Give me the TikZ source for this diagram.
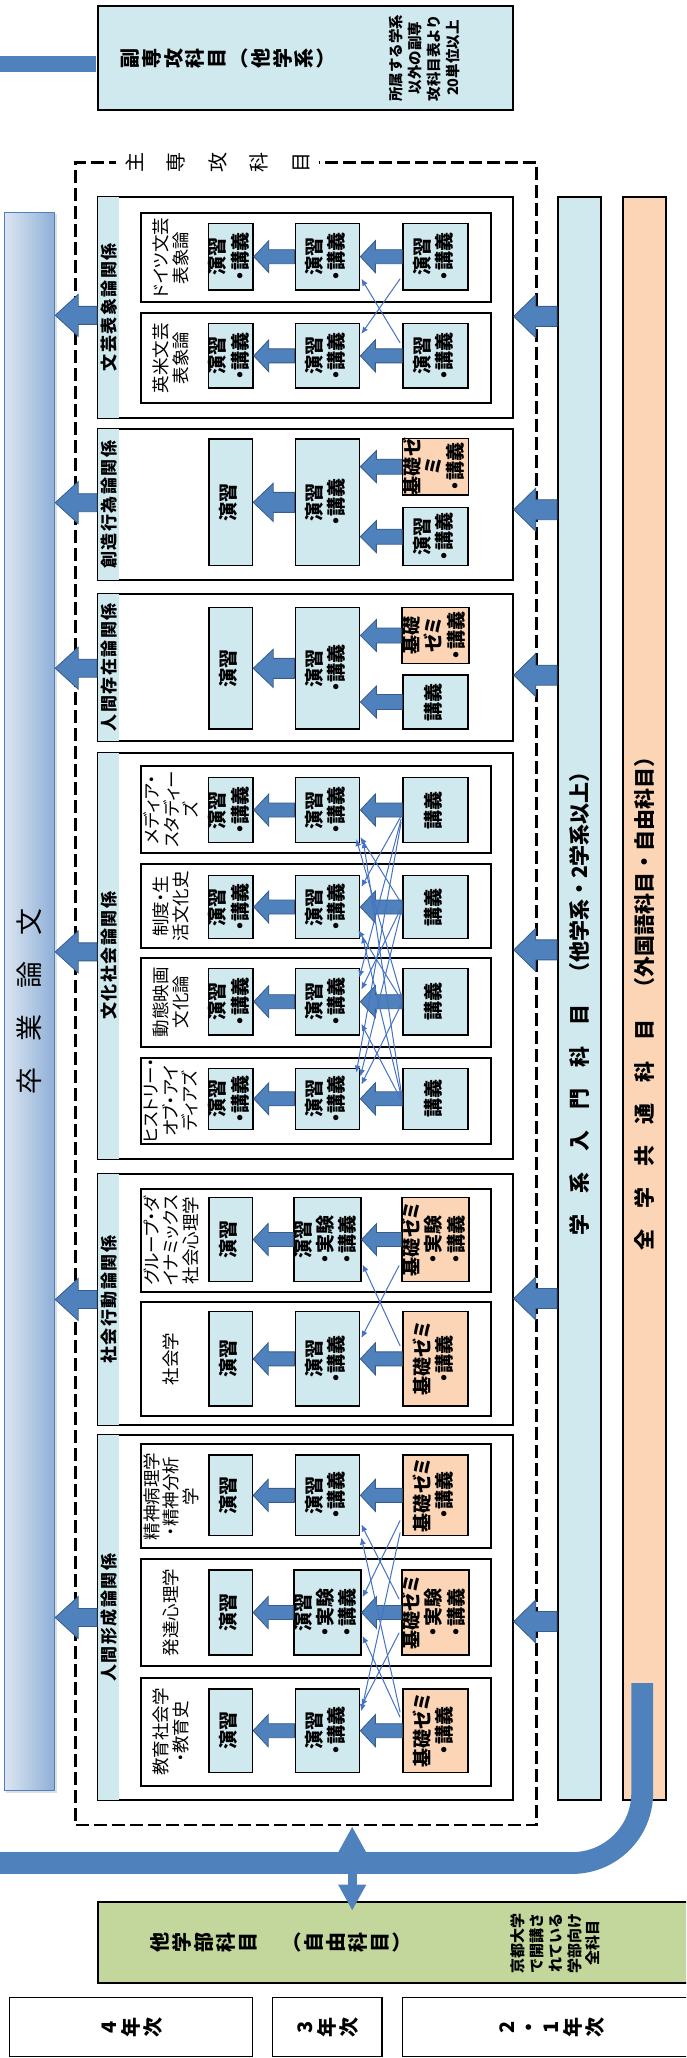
\documentclass[tikz,border=0pt]{standalone}
\usepackage{fontspec}
\setmainfont{Noto Sans CJK JP}
\newfontfamily\pf[RawFeature=+palt]{Noto Sans CJK JP}
\usepackage{graphicx}
\usetikzlibrary{calc,arrows.meta,shadows}

\definecolor{lb}{RGB}{208,233,239}
\definecolor{pe}{RGB}{251,213,181}
\definecolor{gr}{RGB}{195,214,155}
\definecolor{ab}{RGB}{79,129,189}
\definecolor{abd}{RGB}{56,93,138}
\definecolor{tl}{RGB}{68,114,196}
\definecolor{sl}{RGB}{220,230,242}
\definecolor{sr}{RGB}{142,175,215}

\makeatletter
\def\sp@loop#1{\ifx\relax#1\else#1\hskip\sp@gap\relax\expandafter\sp@loop\fi}
\newcommand\spaced[2]{\def\sp@gap{#1}\sp@loop#2\relax\unskip}
\newcommand\rch[1]{\rotatebox[origin=c]{90}{\rule[-0.12em]{0pt}{1em}\smash{#1}}}
\def\ta@loop#1{\ifx\relax#1\else\hbox to\ta@pitch{\hss\rch{#1}\hss}\expandafter\ta@loop\fi}
\newcommand\tate[2]{\def\ta@pitch{#1}\ta@loop#2\relax}
\makeatother

\newcommand\vt[1]{\rotatebox{90}{\begin{tabular}{@{}c@{}}#1\end{tabular}}}
\newcommand\cfont{\pf\bfseries\fontsize{19}{20}\selectfont}
\newcommand\slfont{\pf\fontsize{17.5}{19.5}\selectfont}

\def\xA{230.75}\def\wA{43.3}
\def\xB{327.45}\def\wB{64.3}
\def\xC{435.5}\def\wC{65.2}

\newcommand\cbox[6]{\edef\cx{\csname x#3\endcsname}\edef\cw{\csname w#3\endcsname}%
  \node[#2, minimum width=\cw, minimum height={#5-#4}] (#1) at (\cx,{(#4+#5)/2}) {\vt{#6}};}
\newcommand\subj[4]{\node[sbox, minimum height={#3-#2}] (#1) at (316.1,{(#2+#3)/2}) {};
  \node[slabel] (#1l) at (171,{(#2+#3)/2}) {#4};}
\newcommand\grp[4]{\node[gbox, minimum height={#3-#2}] (#1) at (305.375,{(#2+#3)/2}) {};
  \fill[lb] ($(#1.north west)+(1,1)$) rectangle ($(#1.south west)+(21.9,-1)$);
  \node[inner sep=0pt] (#1l) at (108.95,{(#2+#3)/2}) {\rotatebox{90}{\bfseries\fontsize{17}{20}\selectfont\spaced{1.5pt}{#4}}};}
\newcommand\blockarr[5]{%
  \filldraw[barrow] let \p1=(#1), \p2=(#2) in
  (\x1,\y1+#3) -- (\x2+#5,\y1+#3) -- (\x2+#5,\y1+#4) -- (\x2,\y1)
  -- (\x2+#5,\y1-#4) -- (\x2+#5,\y1-#3) -- (\x1,\y1-#3) -- cycle;}
\newcommand\rowarr[3]{\blockarr{#1.west}{#2.east}{7pt}{16pt}{15pt}\blockarr{#2.west}{#3.east}{7pt}{16pt}{15pt}}

\begin{document}
\begin{tikzpicture}[x=1pt,y=-1pt,
  gbox/.style={draw, line width=2pt, fill=white, minimum width=414.75, inner sep=0pt},
  sbox/.style={draw, line width=2pt, fill=white, minimum width=350.4, inner sep=0pt},
  slabel/.style={rotate=90, align=center, inner sep=0pt, font=\slfont},
  cb/.style={draw, line width=1.5pt, fill=lb, inner sep=0pt, font=\cfont},
  cpe/.style={cb, fill=pe},
  barrow/.style={fill=ab, draw=abd, line width=0.8pt},
  thinar/.style={draw=tl, line width=1pt, -{Latex[length=7pt,width=6pt]}},
  bar/.style={draw, line width=1.5pt, inner sep=0pt, minimum width=43, minimum height=1603},
]
\useasboundingbox (0,0) rectangle (686,2058);
\clip (0,0) rectangle (686,2058);

% top: minor subjects
\node[draw, line width=2pt, fill=lb, minimum width=414.75, minimum height=104.3, inner sep=0] (top) at (305.375,57.85) {};
\coordinate (tb0) at (-5,63.7);
\draw[ab, line width=16pt, shorten >=1pt] (tb0) -- (tb0 -| top.west);
\node[font=\bfseries\fontsize{20}{24}\selectfont, inner sep=0] (toptitle) at (228,58.3) {\tate{21.8pt}{副専攻科目︵他学系︶}};
\node[rotate=90, align=center, inner sep=0, font=\bfseries\fontsize{14.5}{19}\selectfont] (topnote) at (424.5,58) {所属する学系\\以外の副専\\攻科目表より\\20単位以上};

% right bars
\node[bar, fill=lb] (gk) at (579.25,998.5) {\rotatebox{90}{\bfseries\fontsize{21}{25}\selectfont 学　系　入　門　科　目　（他学系・2学系以上）}};
\node[bar, fill=pe] (zg) at (644.65,998.5) {\rotatebox{90}{\bfseries\fontsize{21}{25}\selectfont 全　学　共　通　科　目　（外国語科目・自由科目）}};

% graduation thesis bar
\node[draw=ab, line width=1pt, left color=sl, right color=sr, minimum width=50.3, minimum height=1578.4, inner sep=0,
  drop shadow={shadow xshift=2pt, shadow yshift=-2pt, opacity=0.25}] (sotsu) at (29.55,1001.5)
  {\rotatebox{90}{\fontsize{27}{30}\selectfont\spaced{26pt}{卒業論文}}};

% main dashed frame
\node[draw, line width=2.7pt, dash pattern=on 13pt off 5pt, minimum width=460.7, minimum height=1662.7, inner sep=0] (major) at (306.05,993.65) {};
\node[fill=white, inner xsep=-2pt, inner ysep=1pt, font=\fontsize{20}{22}\selectfont] (majortitle) at (217.5,162.3) {\tate{41.5pt}{主専攻科目}};

% groups
\grp{G1}{197}{417.7}{文芸表象論関係}
\grp{G2}{429.3}{580}{創造行為論関係}
\grp{G3}{593.7}{740.7}{人間存在論関係}
\grp{G4}{752.7}{1159}{文化社会論関係}
\grp{G5}{1174}{1425}{社会行動論関係}
\grp{G6}{1435}{1800}{人間形成論関係}

% subjects
\subj{S1a}{213.3}{302.3}{ドイツ文芸\\表象論}
\subj{S1b}{313}{403.3}{英米文芸\\表象論}
\subj{S4a}{765.7}{853.3}{メディア・\\スタディー\\ズ}
\subj{S4b}{864}{948.3}{制度・生\\活文化史}
\subj{S4c}{957.7}{1046.7}{動態映画\\文化論}
\subj{S4d}{1057.7}{1144}{ヒストリー・\\オブ・アイ\\ディアズ}
\subj{S5a}{1188.7}{1292.3}{グループ・ダ\\イナミックス\\社会心理学}
\subj{S5b}{1301.7}{1416}{社会学}
\subj{S6a}{1444.3}{1548.3}{精神病理学\\・精神分析\\学}
\subj{S6b}{1559}{1666}{発達心理学}
\subj{S6c}{1677.7}{1786}{教育社会学\\・教育史}

% course boxes
\cbox{A1a}{cb}{A}{223.3}{290}{演習\\・講義}
\cbox{B1a}{cb}{B}{223.3}{290}{演習\\・講義}
\cbox{C1a}{cb}{C}{223.3}{290}{演習\\・講義}
\cbox{A1b}{cb}{A}{323.7}{388}{演習\\・講義}
\cbox{B1b}{cb}{B}{323.7}{388}{演習\\・講義}
\cbox{C1b}{cb}{C}{323.7}{388}{演習\\・講義}

\cbox{A2}{cb}{A}{439}{565.7}{演習}
\cbox{B2}{cb}{B}{439}{565.7}{演習\\・講義}
\cbox{C2a}{cpe}{C}{438.3}{495}{基礎ゼ\\ミ\\・講義}
\cbox{C2b}{cb}{C}{507.7}{565.7}{演習\\・講義}

\cbox{A3}{cb}{A}{607.7}{729}{演習}
\cbox{B3}{cb}{B}{607.7}{729}{演習\\・講義}
\cbox{C3a}{cpe}{C}{607.7}{663.3}{基礎\\ゼミ\\・講義}
\cbox{C3b}{cb}{C}{675}{729}{講義}

\cbox{A4a}{cb}{A}{777.7}{842.3}{演習\\・講義}
\cbox{B4a}{cb}{B}{777.7}{842.3}{演習\\・講義}
\cbox{C4a}{cb}{C}{777.7}{842.3}{講義}
\cbox{A4b}{cb}{A}{875.7}{938.3}{演習\\・講義}
\cbox{B4b}{cb}{B}{875.7}{938.3}{演習\\・講義}
\cbox{C4b}{cb}{C}{875.7}{938.3}{講義}
\cbox{A4c}{cb}{A}{968.3}{1035}{演習\\・講義}
\cbox{B4c}{cb}{B}{968.3}{1035}{演習\\・講義}
\cbox{C4c}{cb}{C}{968.3}{1035}{講義}
\cbox{A4d}{cb}{A}{1068.3}{1129.3}{演習\\・講義}
\cbox{B4d}{cb}{B}{1068.3}{1129.3}{演習\\・講義}
\cbox{C4d}{cb}{C}{1068.3}{1129.3}{講義}

\cbox{A5a}{cb}{A}{1197.3}{1281.7}{演習}
\cbox{B5a}{cb}{B}{1197.3}{1281.7}{演習\\・実験\\・講義}
\cbox{C5a}{cpe}{C}{1197.3}{1281.7}{基礎ゼミ\\・実験\\・講義}
\cbox{A5b}{cb}{A}{1311.7}{1406}{演習}
\cbox{B5b}{cb}{B}{1311.7}{1406}{演習\\・講義}
\cbox{C5b}{cpe}{C}{1311.7}{1406}{基礎ゼミ\\・講義}

\cbox{A6a}{cb}{A}{1455}{1535.7}{演習}
\cbox{B6a}{cb}{B}{1455}{1535.7}{演習\\・講義}
\cbox{C6a}{cpe}{C}{1455}{1535.7}{基礎ゼミ\\・講義}
\cbox{A6b}{cb}{A}{1570}{1655}{演習}
\cbox{B6b}{cb}{B}{1570}{1655}{演習\\・実験\\・講義}
\cbox{C6b}{cpe}{C}{1570}{1655}{基礎ゼミ\\・実験\\・講義}
\cbox{A6c}{cb}{A}{1689}{1772.3}{演習}
\cbox{B6c}{cb}{B}{1689}{1772.3}{演習\\・講義}
\cbox{C6c}{cpe}{C}{1689}{1772.3}{基礎ゼミ\\・講義}

% block arrows inside subjects
\rowarr{C1a}{B1a}{A1a}
\rowarr{C1b}{B1b}{A1b}
\blockarr{C2a.west}{B2.east}{7.5pt}{16pt}{16pt}
\blockarr{C2b.west}{B2.east}{7.5pt}{16pt}{16pt}
\blockarr{B2.west}{A2.east}{10pt}{19pt}{20pt}
\blockarr{C3a.west}{B3.east}{7.5pt}{16pt}{16pt}
\blockarr{C3b.west}{B3.east}{7.5pt}{16pt}{16pt}
\blockarr{B3.west}{A3.east}{10pt}{19pt}{20pt}
\rowarr{C4a}{B4a}{A4a}
\rowarr{C4b}{B4b}{A4b}
\rowarr{C4c}{B4c}{A4c}
\rowarr{C4d}{B4d}{A4d}
\rowarr{C5a}{B5a}{A5a}
\rowarr{C5b}{B5b}{A5b}
\rowarr{C6a}{B6a}{A6a}
\rowarr{C6b}{B6b}{A6b}
\rowarr{C6c}{B6c}{A6c}

% group arrows to thesis and from introductory subjects
\blockarr{$(G1.west)+(0,8)$}{sotsu.east}{9pt}{21pt}{23pt}
\blockarr{$(G2.west)+(0,-2)$}{sotsu.east}{9pt}{21pt}{23pt}
\blockarr{$(G3.west)+(0,1)$}{sotsu.east}{9pt}{21pt}{23pt}
\blockarr{$(G4.west)+(0,-4)$}{sotsu.east}{9pt}{21pt}{23pt}
\blockarr{$(G5.west)+(0,0)$}{sotsu.east}{9pt}{21pt}{23pt}
\blockarr{$(G6.west)+(0,0)$}{sotsu.east}{9pt}{21pt}{23pt}
\blockarr{$(G1.east -| gk.west)+(0,9)$}{G1.east}{10pt}{21.5pt}{22pt}
\blockarr{$(G2.east -| gk.west)+(0,5)$}{G2.east}{10pt}{21.5pt}{22pt}
\blockarr{$(G3.east -| gk.west)+(0,8)$}{G3.east}{10pt}{21.5pt}{22pt}
\blockarr{$(G4.east -| gk.west)+(0,-6)$}{G4.east}{10pt}{21.5pt}{22pt}
\blockarr{$(G5.east -| gk.west)+(0,-1)$}{G5.east}{10pt}{21.5pt}{22pt}
\blockarr{$(G6.east -| gk.west)+(0,4)$}{G6.east}{10pt}{21.5pt}{22pt}

% thin cross links
\draw[thinar] ($(C1a.south west)+(-2,-12)$) -- ($(B1b.north east)+(1,11)$);
\draw[thinar] ($(C1b.north west)+(-2,20)$) -- ($(B1a.south east)+(1,-12)$);

\draw[thinar] ($(C4a.west)+(-1,6)$) -- ($(B4b.north east)+(1,12)$);
\draw[thinar] ($(C4a.west)+(-1,9)$) -- ($(B4c.north east)+(-1,10)$);
\draw[thinar] ($(C4a.west)+(-1,12)$) -- ($(B4d.north east)+(-4,5)$);
\draw[thinar] ($(C4b.west)+(-1,-4)$) -- ($(B4a.south east)+(0,-6)$);
\draw[thinar] ($(C4b.west)+(-1,1)$) -- ($(B4c.north east)+(1,22)$);
\draw[thinar] ($(C4b.west)+(-1,4)$) -- ($(B4d.north east)+(0,9)$);
\draw[thinar] ($(C4c.west)+(-1,-6)$) -- ($(B4a.south east)+(-4,-4)$);
\draw[thinar] ($(C4c.west)+(-1,-2)$) -- ($(B4b.south east)+(-2,-9)$);
\draw[thinar] ($(C4c.west)+(-1,3)$) -- ($(B4d.north east)+(1,17)$);
\draw[thinar] ($(C4d.west)+(-1,-7)$) -- ($(B4a.south east)+(3,-2)$);
\draw[thinar] ($(C4d.west)+(-1,-3)$) -- ($(B4b.south east)+(2,-3)$);
\draw[thinar] ($(C4d.west)+(-1,1)$) -- ($(B4c.south east)+(1,-12)$);

\draw[thinar] ($(C5a.south west)+(-2,-17)$) -- ($(B5b.north east)+(1,27)$);
\draw[thinar] ($(C5b.north west)+(-2,35)$) -- ($(B5a.south east)+(1,-18)$);

\draw[thinar] ($(C6a.south west)+(-2,-16)$) -- ($(B6b.north east)+(1,28)$);
\draw[thinar] ($(C6a.south west)+(-2,-4)$) -- ($(B6c.north east)+(1,23)$);
\draw[thinar] ($(C6b.north west)+(-2,30)$) -- ($(B6a.south east)+(1,-12)$);
\draw[thinar] ($(C6b.south west)+(-2,-23)$) -- ($(B6c.north east)+(1,18)$);
\draw[thinar] ($(C6c.north west)+(-2,24)$) -- ($(B6a.south east)+(1,1)$);
\draw[thinar] ($(C6c.north west)+(-2,29)$) -- ($(B6b.south east)+(1,-20)$);

% thick flow line from common subjects
\coordinate (zs) at (642.2,1683);
\coordinate (ze) at (-10,1863);
\draw[ab, line width=21.8pt, rounded corners=70pt] (zs) |- (ze);

% other faculties box
\node[draw, line width=2pt, fill=gr, minimum width=602, minimum height=81, inner sep=0] (green) at (399,1942.2) {};
\node[font=\bfseries\fontsize{20}{24}\selectfont, inner sep=0] (greentitle) at (281,1942) {\tate{22pt}{他学部科目　︵自由科目︶}};
\node[rotate=90, align=center, inner sep=0, font=\bfseries\fontsize{15}{18.75}\selectfont] (greennote) at (555.5,1943) {京都大学\\で開講さ\\れている\\学部向け\\全科目};

% double arrow
\coordinate (dax) at (352.2,0);
\draw[ab, line width=8.75pt, {Triangle[length=26pt,width=26pt]}-{Triangle[length=26pt,width=26pt]}, shorten >=-10pt] (major.south -| dax) -- (green.north -| dax);

% year boxes
\node[draw, line width=1.5pt, fill=white, minimum width=242.8, minimum height=59, inner sep=0, font=\bfseries\fontsize{20}{24}\selectfont] (y4) at (131,2027.2) {\tate{22pt}{4年次}};
\node[draw, line width=1.5pt, fill=white, minimum width=109.3, minimum height=59, inner sep=0, font=\bfseries\fontsize{20}{24}\selectfont] (y3) at (327.25,2027.2) {\tate{22pt}{3年次}};
\node[draw, line width=1.5pt, fill=white, minimum width=297.5, minimum height=59, inner sep=0, font=\bfseries\fontsize{20}{24}\selectfont] (y21) at (551.25,2027.2) {\tate{22pt}{2・1年次}};
\end{tikzpicture}
\end{document}
